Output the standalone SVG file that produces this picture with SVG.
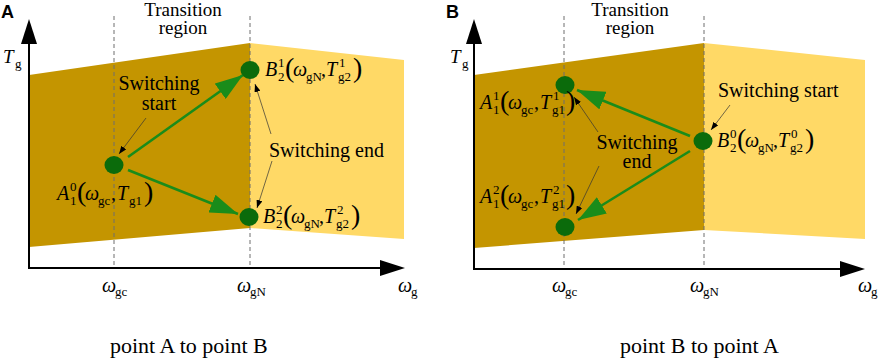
<svg xmlns="http://www.w3.org/2000/svg" width="879" height="363" viewBox="0 0 879 363">
<style>
svg text, svg tspan{font-family:'Liberation Serif','Times New Roman',serif}
svg text.sans{font-family:'Liberation Sans',Arial,sans-serif;font-weight:bold;font-size:18px}
.i{font-style:italic}
.m{font-size:20px}
.s{font-size:13px}
.p{font-size:28px}
.tx{font-size:20px}
.tr{font-size:19px}
.cap{font-size:22px}
.dark{fill:#C49500}
.light{fill:#FFD966}
.dash{stroke:#6E6E6E;stroke-width:1;stroke-dasharray:4 3;fill:none}
.axis{stroke:#000;stroke-width:2;fill:none}
.g{stroke:#1A8C1A;stroke-width:2.6;fill:none}
.thin{stroke:#333;stroke-width:0.7;fill:none}
.dot{fill:#0B6B0B}
</style>
<defs>
<marker id="ga" viewBox="0 0 28 19" refX="28" refY="9.5" markerWidth="28" markerHeight="19" markerUnits="userSpaceOnUse" orient="auto"><path d="M0,0 L28,9.5 L0,19 Z" fill="#1A8C1A"/></marker>
<marker id="ta" viewBox="0 0 8 6" refX="8" refY="3" markerWidth="8" markerHeight="6" markerUnits="userSpaceOnUse" orient="auto"><path d="M0,0 L8,3 L0,6 Z" fill="#000"/></marker>
</defs>

<!-- Panel A -->
<g id="panelA-regions">
<polygon class="dark" points="29,75 250,43 250,228 29,247"/>
<polygon class="light" points="250,43 404,60 404,239 250,228"/>
</g>
<g id="panelA-guides">
<line class="dash" x1="114" y1="16" x2="114" y2="268"/>
<line class="dash" x1="250" y1="16" x2="250" y2="268"/>
</g>
<g id="panelA-axes">
<line class="axis" x1="29" y1="40" x2="29" y2="268"/>
<line class="axis" x1="28" y1="268" x2="384" y2="268"/>
<polygon points="29,19 21,44 37,44" fill="#000"/>
<polygon points="405,268 380,260 380,276" fill="#000"/>
<text class="sans" x="1" y="18">A</text>
<text><tspan class="i" x="3" y="63" font-size="19">T</tspan><tspan class="s" x="15" y="68">g</tspan></text>
<text><tspan class="i m" x="102" y="292">ω</tspan><tspan class="s" x="115" y="296">gc</tspan></text>
<text><tspan class="i m" x="237" y="292">ω</tspan><tspan class="s" x="250" y="296">gN</tspan></text>
<text><tspan class="i m" x="398" y="292">ω</tspan><tspan class="s" x="411" y="296">g</tspan></text>
<text class="tr" x="183" y="16" text-anchor="middle">Transition</text>
<text class="tr" x="183" y="34" text-anchor="middle">region</text>
<text class="cap" x="110" y="353">point A to point B</text>
</g>
<g id="panelA-connectors">
<line class="g" x1="128" y1="157" x2="243" y2="75" marker-end="url(#ga)"/>
<line class="g" x1="128" y1="170" x2="238" y2="214" marker-end="url(#ga)"/>
<line class="thin" x1="146" y1="118" x2="119" y2="154" marker-end="url(#ta)"/>
<line class="thin" x1="271" y1="134" x2="255" y2="84" marker-end="url(#ta)"/>
<line class="thin" x1="272" y1="161" x2="257" y2="208" marker-end="url(#ta)"/>
</g>
<g id="nodeA-A10">
<ellipse class="dot" cx="114" cy="165" rx="9.5" ry="9"/>
<text><tspan class="i m" x="57" y="200">A</tspan><tspan class="s" x="70" y="205">1</tspan><tspan class="s" x="70" y="191">0</tspan><tspan class="p" x="77" y="201">(</tspan><tspan class="i m" x="85" y="200">ω</tspan><tspan class="s" x="98" y="205">gc</tspan><tspan class="m" x="111" y="200">,</tspan><tspan class="i m" x="117" y="200">T</tspan><tspan class="s" x="129" y="205">g1</tspan><tspan class="p" x="144" y="201">)</tspan></text>
</g>
<g id="nodeA-B21">
<ellipse class="dot" cx="250" cy="70" rx="9.5" ry="9"/>
<text><tspan class="i m" x="265" y="76">B</tspan><tspan class="s" x="278" y="81">2</tspan><tspan class="s" x="278" y="67">1</tspan><tspan class="p" x="285" y="77">(</tspan><tspan class="i m" x="293" y="76">ω</tspan><tspan class="s" x="306" y="81">gN</tspan><tspan class="m" x="321" y="76">,</tspan><tspan class="i m" x="326" y="76">T</tspan><tspan class="s" x="338" y="81">g2</tspan><tspan class="s" x="339" y="67">1</tspan><tspan class="p" x="353" y="77">)</tspan></text>
</g>
<g id="nodeA-B22">
<ellipse class="dot" cx="249" cy="217" rx="9.5" ry="9"/>
<text><tspan class="i m" x="263" y="223">B</tspan><tspan class="s" x="276" y="228">2</tspan><tspan class="s" x="276" y="214">2</tspan><tspan class="p" x="283" y="224">(</tspan><tspan class="i m" x="291" y="223">ω</tspan><tspan class="s" x="304" y="228">gN</tspan><tspan class="m" x="319" y="223">,</tspan><tspan class="i m" x="324" y="223">T</tspan><tspan class="s" x="336" y="228">g2</tspan><tspan class="s" x="337" y="214">2</tspan><tspan class="p" x="351" y="224">)</tspan></text>
</g>
<g id="labelA-start">
<text class="tx" x="159" y="90" text-anchor="middle">Switching</text>
<text class="tx" x="159" y="110" text-anchor="middle">start</text>
</g>
<g id="labelA-end">
<text class="tx" x="269" y="157">Switching end</text>
</g>

<!-- Panel B -->
<g id="panelB-regions">
<polygon class="dark" points="474,75 704,43 704,230 474,248"/>
<polygon class="light" points="704,43 865,60 865,239 704,230"/>
</g>
<g id="panelB-guides">
<line class="dash" x1="564" y1="16" x2="564" y2="269"/>
<line class="dash" x1="704" y1="16" x2="704" y2="269"/>
</g>
<g id="panelB-axes">
<line class="axis" x1="474" y1="40" x2="474" y2="269"/>
<line class="axis" x1="473" y1="269" x2="844" y2="269"/>
<polygon points="474,19 466,44 482,44" fill="#000"/>
<polygon points="865,269 840,261 840,277" fill="#000"/>
<text class="sans" x="446" y="18">B</text>
<text><tspan class="i" x="450" y="63" font-size="19">T</tspan><tspan class="s" x="462" y="68">g</tspan></text>
<text><tspan class="i m" x="552" y="292">ω</tspan><tspan class="s" x="565" y="296">gc</tspan></text>
<text><tspan class="i m" x="690" y="292">ω</tspan><tspan class="s" x="703" y="296">gN</tspan></text>
<text><tspan class="i m" x="858" y="292">ω</tspan><tspan class="s" x="871" y="296">g</tspan></text>
<text class="tr" x="630" y="16" text-anchor="middle">Transition</text>
<text class="tr" x="630" y="34" text-anchor="middle">region</text>
<text class="cap" x="620" y="353">point B to point A</text>
</g>
<g id="panelB-connectors">
<line class="g" x1="690" y1="136" x2="577" y2="90" marker-end="url(#ga)"/>
<line class="g" x1="690" y1="151" x2="578" y2="220" marker-end="url(#ga)"/>
<line class="thin" x1="730" y1="105" x2="711" y2="130" marker-end="url(#ta)"/>
<line class="thin" x1="598" y1="132" x2="574" y2="97" marker-end="url(#ta)"/>
<line class="thin" x1="599" y1="166" x2="576" y2="214" marker-end="url(#ta)"/>
</g>
<g id="nodeB-A11">
<ellipse class="dot" cx="565" cy="85" rx="9.5" ry="9"/>
<text><tspan class="i m" x="480" y="109">A</tspan><tspan class="s" x="493" y="114">1</tspan><tspan class="s" x="493" y="100">1</tspan><tspan class="p" x="500" y="110">(</tspan><tspan class="i m" x="508" y="109">ω</tspan><tspan class="s" x="521" y="114">gc</tspan><tspan class="m" x="534" y="109">,</tspan><tspan class="i m" x="540" y="109">T</tspan><tspan class="s" x="552" y="114">g1</tspan><tspan class="s" x="553" y="100">1</tspan><tspan class="p" x="566" y="110">)</tspan></text>
</g>
<g id="nodeB-A12">
<ellipse class="dot" cx="565" cy="227" rx="9.5" ry="9"/>
<text><tspan class="i m" x="480" y="203">A</tspan><tspan class="s" x="493" y="208">1</tspan><tspan class="s" x="493" y="194">2</tspan><tspan class="p" x="500" y="204">(</tspan><tspan class="i m" x="508" y="203">ω</tspan><tspan class="s" x="521" y="208">gc</tspan><tspan class="m" x="534" y="203">,</tspan><tspan class="i m" x="540" y="203">T</tspan><tspan class="s" x="552" y="208">g1</tspan><tspan class="s" x="553" y="194">2</tspan><tspan class="p" x="566" y="204">)</tspan></text>
</g>
<g id="nodeB-B20">
<ellipse class="dot" cx="703" cy="141" rx="9.5" ry="9"/>
<text><tspan class="i m" x="717" y="147">B</tspan><tspan class="s" x="730" y="152">2</tspan><tspan class="s" x="730" y="138">0</tspan><tspan class="p" x="737" y="148">(</tspan><tspan class="i m" x="745" y="147">ω</tspan><tspan class="s" x="758" y="152">gN</tspan><tspan class="m" x="773" y="147">,</tspan><tspan class="i m" x="778" y="147">T</tspan><tspan class="s" x="790" y="152">g2</tspan><tspan class="s" x="791" y="138">0</tspan><tspan class="p" x="805" y="148">)</tspan></text>
</g>
<g id="labelB-start">
<text class="tx" x="718" y="97">Switching start</text>
</g>
<g id="labelB-end">
<text class="tx" x="637" y="149" text-anchor="middle">Switching</text>
<text class="tx" x="637" y="168" text-anchor="middle">end</text>
</g>
</svg>
